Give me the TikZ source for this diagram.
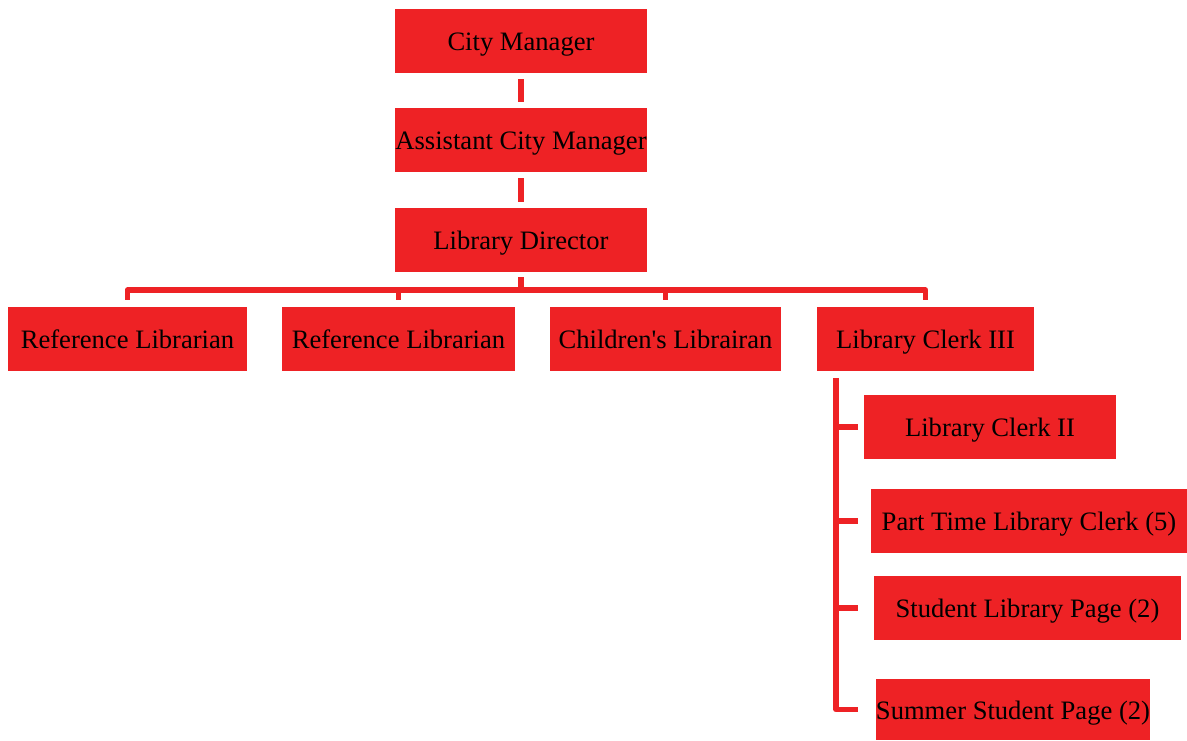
\documentclass[tikz,border=0pt]{standalone}
\usepackage{fontspec}
\setmainfont{Liberation Serif}[Ligatures=TeXOff]
\definecolor{boxred}{HTML}{EE2225}
\begin{document}
\begin{tikzpicture}[x=1pt,y=-1pt,
  box/.style={fill=boxred, draw=none, inner sep=0pt, minimum height=64pt,
    text height=20pt, text depth=0.6pt,
    font=\fontsize{26.6}{30}\selectfont, text=black},
  conn/.style={draw=boxred, line width=5.5pt, line join=round}]
\useasboundingbox (0,0) rectangle (1187,740);

% top chain
\node[box, minimum width=252pt] (cm)  at (521,41)  {City Manager};
\node[box, minimum width=252pt] (acm) at (521,140) {Assistant City Manager};
\node[box, minimum width=252pt] (dir) at (521,240) {Library Director};

% second level
\node[box, minimum width=239pt] (r1) at (127.5,339) {Reference Librarian};
\node[box, minimum width=233pt] (r2) at (398.5,339) {Reference Librarian};
\node[box, minimum width=231pt] (ch) at (665.5,339) {Children's Librairan};
\node[box, minimum width=217pt] (c3) at (925.5,339) {Library Clerk III};

% staff under Library Clerk III
\node[box, minimum width=252pt] (c2) at (990,427)    {Library Clerk II};
\node[box, minimum width=316pt] (p5) at (1029,521)   {Part Time Library Clerk (5)};
\node[box, minimum width=307pt] (s3) at (1027.5,608) {Student Library Page (2)};
\node[box, minimum width=274pt, minimum height=61pt] (s4) at (1013,709.5) {Summer Student Page (2)};

% vertical links in the top chain
\draw[conn] ([yshift=-6pt]cm.south)  -- ([yshift=6pt]acm.north);
\draw[conn] ([yshift=-6pt]acm.south) -- ([yshift=6pt]dir.north);

% bus under the director
\coordinate (bus) at (521,290);
\draw[conn] ([yshift=-5pt]dir.south) -- (bus);
\draw[conn] ([yshift=7pt]r1.north) -- (r1.north |- bus) -- (c3.north |- bus) -- ([yshift=7pt]c3.north);
\draw[conn] ([yshift=7pt]r2.north) -- (r2.north |- bus);
\draw[conn] ([yshift=7pt]ch.north) -- (ch.north |- bus);

% trunk under Library Clerk III
\coordinate (trunk) at (836,378);
\draw[conn] (trunk) -- (trunk |- s4.west) -- ++(22,0);
\draw[conn] (trunk |- c2.west) -- ++(22,0);
\draw[conn] (trunk |- p5.west) -- ++(22,0);
\draw[conn] (trunk |- s3.west) -- ++(22,0);
\end{tikzpicture}
\end{document}
